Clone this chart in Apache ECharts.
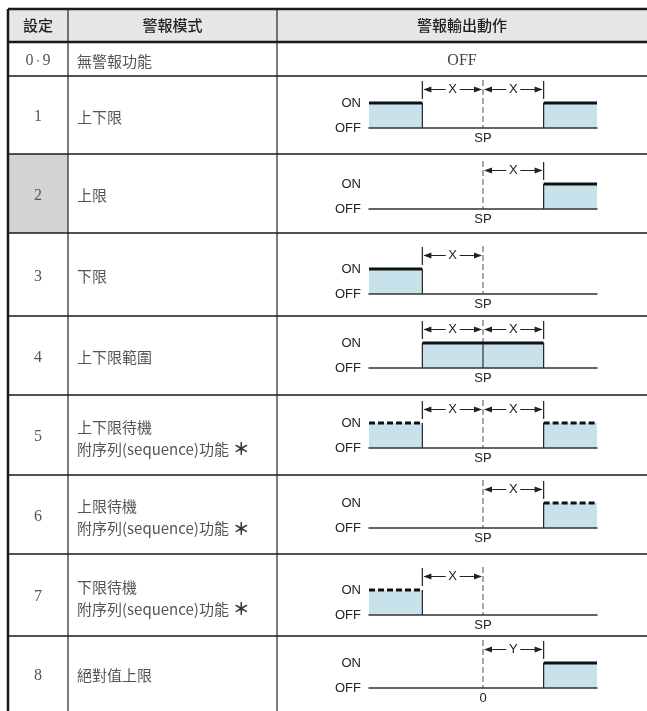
<!DOCTYPE html>
<html><head><meta charset="utf-8">
<script src="https://cdn.jsdelivr.net/npm/echarts@6/dist/echarts.min.js"></script>
<style>html,body{margin:0;padding:0;background:#fff}#c{width:647px;height:711px}</style>
</head><body><div id="c"></div>
<script>
// ---------- data ----------
const headers = ['設定', '警報模式', '警報輸出動作'];
const settings = ['0、9', '1', '2', '3', '4', '5', '6', '7', '8'];
const modeLine1 = ['無警報功能', '上下限', '上限', '下限', '上下限範圍', '上下限待機', '上限待機', '下限待機', '絕對值上限'];
const modeLine2 = ['', '', '', '', '', '附序列(sequence)功能＊', '附序列(sequence)功能＊', '附序列(sequence)功能＊', ''];
const noAlarmText = 'OFF';
const stateLabels = ['OFF', 'ON'];
// ON zones of the output along the process value axis (units of X, SP = 0)
const onZones = [null,
  [[-Infinity, -1], [1, Infinity]],
  [[1, Infinity]],
  [[-Infinity, -1]],
  [[-1, 1]],
  [[-Infinity, -1], [1, Infinity]],
  [[1, Infinity]],
  [[-Infinity, -1]],
  [[1, Infinity]]];
const standby = [false, false, false, false, false, true, true, true, false];
const refLabels = [null, 'SP', 'SP', 'SP', 'SP', 'SP', 'SP', 'SP', '0'];
const spanLabels = [null, 'X', 'X', 'X', 'X', 'X', 'X', 'X', 'Y'];
const spans = [null,
  [[-1, 0], [0, 1]],
  [[0, 1]],
  [[-1, 0]],
  [[-1, 0], [0, 1]],
  [[-1, 0], [0, 1]],
  [[0, 1]],
  [[-1, 0]],
  [[0, 1]]];

// ---------- layout ----------
const L = {
  rowEdges: [9, 42, 76, 154, 233, 316, 395, 475, 554, 636, 711],
  colEdges: [8, 68, 277, 647],
  onOffset: [0, 27, 30, 36, 27, 28, 28, 36, 27],
  plotLeft: 369, plotWidth: 228, plotHeight: 25,
  pvRange: 1.88
};
const CJK = '"Noto Sans CJK TC", "Noto Sans CJK SC", sans-serif';
const SERIF = '"Liberation Serif", "DejaVu Serif", "Noto Sans CJK TC", serif';
const SANS = '"Liberation Sans", Arial, sans-serif';

const grids = [], xAxes = [], yAxes = [], series = [];
for (let i = 1; i < settings.length; i++) {
  const top = L.rowEdges[i + 1] + L.onOffset[i];
  const gi = grids.length;
  grids.push({left: L.plotLeft, top: top, width: L.plotWidth, height: L.plotHeight});
  xAxes.push({
    type: 'value', gridIndex: gi, min: -L.pvRange, max: L.pvRange, z: 5,
    axisLine: {show: true, onZero: false, lineStyle: {color: '#333', width: 1.5}},
    axisTick: {show: false}, splitLine: {show: false},
    axisLabel: {customValues: [0], formatter: () => refLabels[i], color: '#222', fontSize: 13, fontFamily: SANS, margin: 4}
  });
  yAxes.push({
    type: 'category', gridIndex: gi, data: stateLabels, boundaryGap: false,
    axisLine: {show: false}, axisTick: {show: false}, splitLine: {show: false},
    axisLabel: {color: '#222', fontSize: 13, fontFamily: SANS, margin: 8}
  });
  // set-point reference line
  series.push({
    type: 'custom', xAxisIndex: gi, yAxisIndex: gi, clip: false, z: 1,
    data: [[0]], encode: {x: 0},
    renderItem: (params, api) => {
      const on = api.coord([api.value(0), 1]), off = api.coord([api.value(0), 0]);
      return {type: 'line', shape: {x1: on[0], y1: on[1] - 23, x2: off[0], y2: off[1]},
        style: {stroke: '#8a8a8a', lineWidth: 1.5, lineDash: [6, 3]}};
    }
  });
  // ON zones
  series.push({
    type: 'custom', xAxisIndex: gi, yAxisIndex: gi, clip: false, z: 2,
    data: onZones[i].map(z => z.map(v => Math.max(-L.pvRange, Math.min(L.pvRange, v)))),
    encode: {x: [0, 1]},
    renderItem: (params, api) => {
      const raw = onZones[i][params.dataIndex];
      const a = api.value(0), b = api.value(1);
      const p0 = api.coord([a, 1]), p1 = api.coord([b, 0]);
      const ch = [{type: 'rect', shape: {x: p0[0], y: p0[1], width: p1[0] - p0[0], height: p1[1] - p0[1]},
        style: {fill: '#c8e2ec'}}];
      raw.forEach((v, k) => {
        if (isFinite(v)) {
          const q = api.coord([k ? b : a, 1]), r = api.coord([k ? b : a, 0]);
          ch.push({type: 'line', shape: {x1: q[0], y1: q[1], x2: r[0], y2: r[1]}, style: {stroke: '#222', lineWidth: 1.2}});
        }
      });
      if (a < 0 && b > 0) {
        const q = api.coord([0, 1]), r = api.coord([0, 0]);
        ch.push({type: 'line', shape: {x1: q[0], y1: q[1], x2: r[0], y2: r[1]}, style: {stroke: '#333', lineWidth: 1.2}});
      }
      ch.push({type: 'line', shape: {x1: p0[0], y1: p0[1], x2: p1[0], y2: p0[1]},
        style: {stroke: '#111', lineWidth: 3, lineDash: standby[i] ? [6, 3] : null}});
      return {type: 'group', children: ch};
    }
  });
  // span arrows
  series.push({
    type: 'custom', xAxisIndex: gi, yAxisIndex: gi, clip: false, z: 3,
    data: spans[i], encode: {x: [0, 1]},
    renderItem: (params, api) => {
      const a = api.value(0), b = api.value(1);
      const pa = api.coord([a, 1]), pb = api.coord([b, 1]);
      const y = pa[1] - 13.5, xa = pa[0], xb = pb[0], xc = (xa + xb) / 2;
      const st = {stroke: '#222', lineWidth: 1};
      const ch = [
        {type: 'line', shape: {x1: xa + 2, y1: y, x2: xc - 7, y2: y}, style: st},
        {type: 'line', shape: {x1: xc + 7, y1: y, x2: xb - 2, y2: y}, style: st},
        {type: 'polygon', shape: {points: [[xa + 1, y], [xa + 9, y - 3], [xa + 9, y + 3]]}, style: {fill: '#222'}},
        {type: 'polygon', shape: {points: [[xb - 1, y], [xb - 9, y - 3], [xb - 9, y + 3]]}, style: {fill: '#222'}},
        {type: 'text', x: xc, y: y, style: {text: spanLabels[i], fill: '#222', fontSize: 13, fontFamily: SANS, align: 'center', verticalAlign: 'middle'}}
      ];
      [a, b].forEach((v, k) => {
        if (v !== 0) {
          const x = k ? xb : xa;
          ch.push({type: 'line', shape: {x1: x, y1: pa[1] - 22, x2: x, y2: pa[1] - 4}, style: {stroke: '#222', lineWidth: 1.2}});
        }
      });
      return {type: 'group', children: ch};
    }
  });
}

// ---------- table frame and text ----------
const R = L.rowEdges, C = L.colEdges;
const g = [];
g.push({type: 'rect', shape: {x: C[0], y: R[0], width: C[3] - C[0], height: R[1] - R[0]}, style: {fill: '#e6e6e6'}});
g.push({type: 'rect', shape: {x: C[0], y: R[3], width: C[1] - C[0], height: R[4] - R[3]}, style: {fill: '#d3d3d5'}});
R.forEach((y, k) => {
  if (k === R.length - 1) return;
  const thick = k <= 1;
  g.push({type: 'line', shape: {x1: C[0], y1: y, x2: C[3], y2: y}, style: {stroke: '#1a1a1a', lineWidth: thick ? 2.5 : 1.5}});
});
g.push({type: 'line', shape: {x1: C[0], y1: R[0], x2: C[0], y2: R[R.length - 1]}, style: {stroke: '#1a1a1a', lineWidth: 2.5}});
[C[1], C[2]].forEach(x => g.push({type: 'line', shape: {x1: x, y1: R[0], x2: x, y2: R[R.length - 1]}, style: {stroke: '#222', lineWidth: 1.2}}));
headers.forEach((h, k) => g.push({type: 'text', x: (C[k] + C[k + 1]) / 2, y: (R[0] + R[1]) / 2,
  style: {text: h, fill: '#222', fontSize: 15, fontWeight: 500, fontFamily: CJK, align: 'center', verticalAlign: 'middle'}}));

// rich-text helpers: narrow ideographic comma, bolder trailing asterisk
const richBody = {
  t: {fill: '#555', fontSize: 15, fontFamily: CJK},
  s: {fill: '#333', fontSize: 17, fontWeight: 'bold', fontFamily: CJK},
  n: {fill: '#555', fontSize: 16, fontFamily: SERIF},
  c: {fill: '#555', fontSize: 9, fontFamily: CJK}
};
const fmtMode = s => s.endsWith('＊') ? '{t|' + s.slice(0, -1) + '}{s| ＊}' : '{t|' + s + '}';
const fmtSetting = s => s.split('').map(ch => ch === '、' ? '{c|、}' : '{n|' + ch + '}').join('');

settings.forEach((s, k) => {
  const cy = (R[k + 1] + R[k + 2]) / 2 + 2;
  g.push({type: 'text', x: (C[0] + C[1]) / 2, y: cy,
    style: {text: fmtSetting(s), rich: richBody, align: 'center', verticalAlign: 'middle'}});
  if (modeLine2[k]) {
    g.push({type: 'text', x: C[1] + 9, y: cy - 10, style: {text: fmtMode(modeLine1[k]), rich: richBody, verticalAlign: 'middle'}});
    g.push({type: 'text', x: C[1] + 9, y: cy + 12, style: {text: fmtMode(modeLine2[k]), rich: richBody, verticalAlign: 'middle'}});
  } else {
    g.push({type: 'text', x: C[1] + 9, y: cy, style: {text: fmtMode(modeLine1[k]), rich: richBody, verticalAlign: 'middle'}});
  }
});
g.push({type: 'text', x: (C[2] + C[3]) / 2, y: (R[1] + R[2]) / 2 + 2,
  style: {text: noAlarmText, fill: '#444', fontSize: 16, fontFamily: SERIF, align: 'center', verticalAlign: 'middle'}});

const chart = echarts.init(document.getElementById('c'));
chart.setOption({
  animation: false,
  grid: grids, xAxis: xAxes, yAxis: yAxes, series: series,
  graphic: {elements: g}
});
</script>
</body></html>
